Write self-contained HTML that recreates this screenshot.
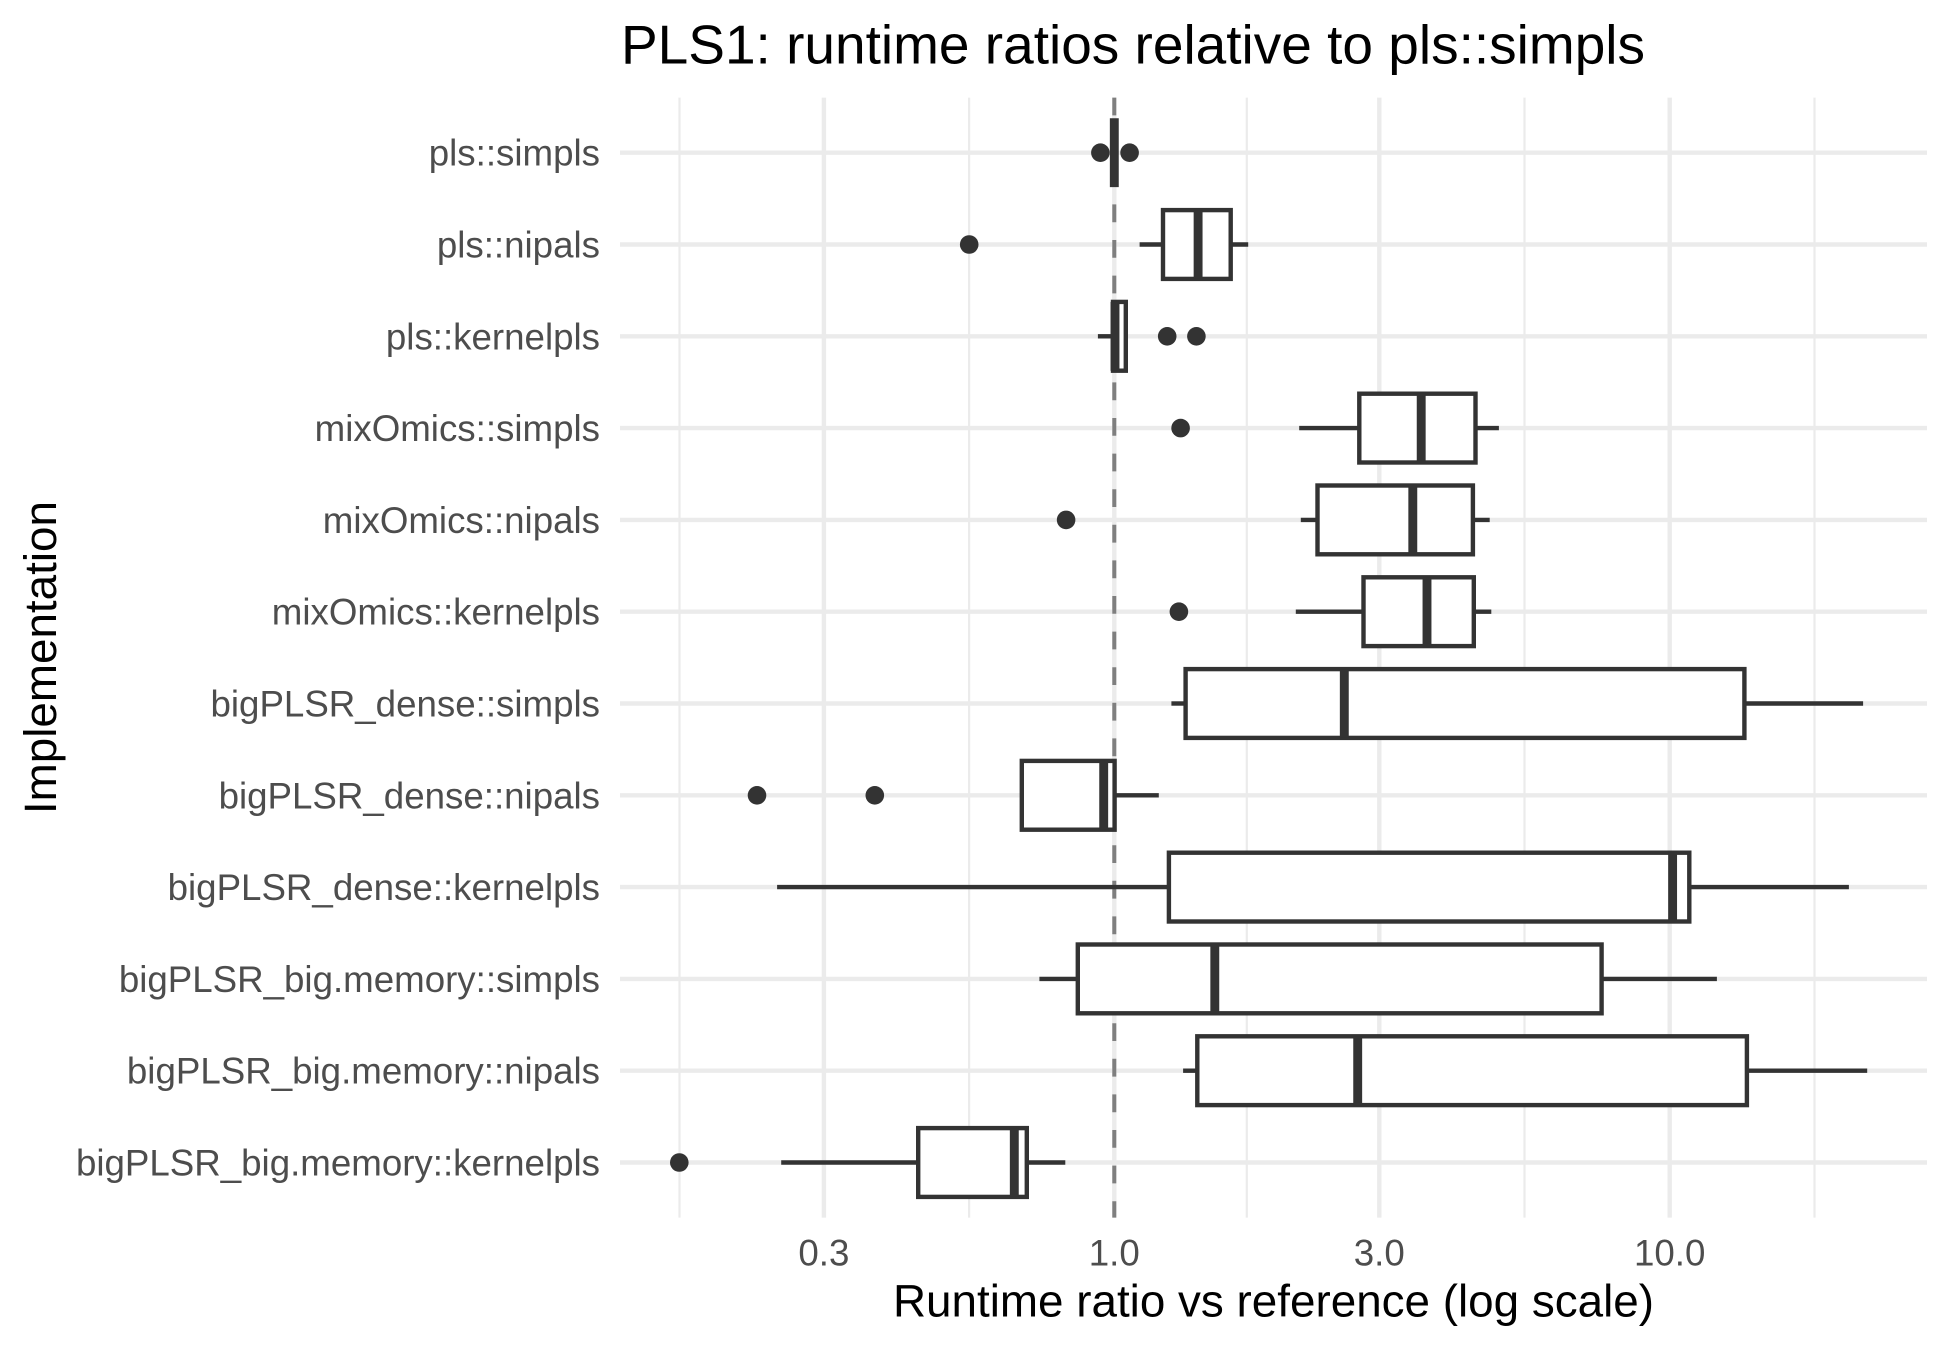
<!DOCTYPE html>
<html>
<head>
<meta charset="utf-8">
<style>
  html, body { margin: 0; padding: 0; background: #ffffff; }
  svg { display: block; }
  text { font-family: "Liberation Sans", Arial, sans-serif; }
</style>
</head>
<body>
<svg width="1950" height="1350" viewBox="0 0 1950 1350" xmlns="http://www.w3.org/2000/svg">
  <rect x="0" y="0" width="1950" height="1350" fill="#ffffff"/>

  <!-- minor vertical gridlines -->
  <g stroke="#EBEBEB" stroke-width="2.2">
    <line x1="679.5" y1="97.6" x2="679.5" y2="1217.6"/>
    <line x1="969.1" y1="97.6" x2="969.1" y2="1217.6"/>
    <line x1="1246.8" y1="97.6" x2="1246.8" y2="1217.6"/>
    <line x1="1524.5" y1="97.6" x2="1524.5" y2="1217.6"/>
    <line x1="1814.5" y1="97.6" x2="1814.5" y2="1217.6"/>
  </g>
  <!-- major vertical gridlines -->
  <g stroke="#EBEBEB" stroke-width="4.4">
    <line x1="823.9" y1="97.6" x2="823.9" y2="1217.6"/>
    <line x1="1114.3" y1="97.6" x2="1114.3" y2="1217.6"/>
    <line x1="1379.3" y1="97.6" x2="1379.3" y2="1217.6"/>
    <line x1="1669.7" y1="97.6" x2="1669.7" y2="1217.6"/>
  </g>
  <!-- major horizontal gridlines -->
  <g stroke="#EBEBEB" stroke-width="4.4">
    <line x1="620" y1="152.7" x2="1927" y2="152.7"/>
    <line x1="620" y1="244.5" x2="1927" y2="244.5"/>
    <line x1="620" y1="336.3" x2="1927" y2="336.3"/>
    <line x1="620" y1="428.1" x2="1927" y2="428.1"/>
    <line x1="620" y1="519.9" x2="1927" y2="519.9"/>
    <line x1="620" y1="611.7" x2="1927" y2="611.7"/>
    <line x1="620" y1="703.5" x2="1927" y2="703.5"/>
    <line x1="620" y1="795.3" x2="1927" y2="795.3"/>
    <line x1="620" y1="887.1" x2="1927" y2="887.1"/>
    <line x1="620" y1="978.9" x2="1927" y2="978.9"/>
    <line x1="620" y1="1070.7" x2="1927" y2="1070.7"/>
    <line x1="620" y1="1162.5" x2="1927" y2="1162.5"/>
  </g>

  <!-- reference dashed line -->
  <line x1="1114.3" y1="97.6" x2="1114.3" y2="1217.6" stroke="#7F7F7F" stroke-width="4" stroke-dasharray="17.8 17.8"/>

  <!-- boxplots -->
  <g stroke="#333333" stroke-width="4.4" fill="#ffffff" stroke-linecap="butt">
    <!-- row 1 pls::simpls -->
    <line x1="1114.3" y1="118.3" x2="1114.3" y2="187.1" stroke-width="8.9"/>

    <!-- row 2 pls::nipals -->
    <line x1="1139.6" y1="244.5" x2="1163" y2="244.5"/>
    <line x1="1230.7" y1="244.5" x2="1248.2" y2="244.5"/>
    <rect x="1163" y="210.1" width="67.7" height="68.8"/>
    <line x1="1198.1" y1="210.1" x2="1198.1" y2="278.9" stroke-width="8.9"/>

    <!-- row 3 pls::kernelpls -->
    <line x1="1097.9" y1="336.3" x2="1113" y2="336.3"/>
    <rect x="1113" y="301.9" width="12.8" height="68.8"/>
    <line x1="1115" y1="301.9" x2="1115" y2="370.7" stroke-width="8.9"/>

    <!-- row 4 mixOmics::simpls -->
    <line x1="1299.2" y1="428.1" x2="1359.3" y2="428.1"/>
    <line x1="1475.5" y1="428.1" x2="1498.9" y2="428.1"/>
    <rect x="1359.3" y="393.7" width="116.2" height="68.8"/>
    <line x1="1421.2" y1="393.7" x2="1421.2" y2="462.5" stroke-width="8.9"/>

    <!-- row 5 mixOmics::nipals -->
    <line x1="1300.8" y1="519.9" x2="1317.5" y2="519.9"/>
    <line x1="1472.9" y1="519.9" x2="1489.7" y2="519.9"/>
    <rect x="1317.5" y="485.5" width="155.4" height="68.8"/>
    <line x1="1412.8" y1="485.5" x2="1412.8" y2="554.3" stroke-width="8.9"/>

    <!-- row 6 mixOmics::kernelpls -->
    <line x1="1295.8" y1="611.7" x2="1363.5" y2="611.7"/>
    <line x1="1473.8" y1="611.7" x2="1491.3" y2="611.7"/>
    <rect x="1363.5" y="577.3" width="110.3" height="68.8"/>
    <line x1="1427" y1="577.3" x2="1427" y2="646.1" stroke-width="8.9"/>

    <!-- row 7 bigPLSR_dense::simpls -->
    <line x1="1171.4" y1="703.5" x2="1185.6" y2="703.5"/>
    <line x1="1744.4" y1="703.5" x2="1863.1" y2="703.5"/>
    <rect x="1185.6" y="669.1" width="558.8" height="68.8"/>
    <line x1="1344.3" y1="669.1" x2="1344.3" y2="737.9" stroke-width="8.9"/>

    <!-- row 8 bigPLSR_dense::nipals -->
    <line x1="1114.6" y1="795.3" x2="1158.8" y2="795.3"/>
    <rect x="1021.8" y="760.9" width="92.8" height="68.8"/>
    <line x1="1103.7" y1="760.9" x2="1103.7" y2="829.7" stroke-width="8.9"/>

    <!-- row 9 bigPLSR_dense::kernelpls -->
    <line x1="777.1" y1="887.1" x2="1168.9" y2="887.1"/>
    <line x1="1689.3" y1="887.1" x2="1848.9" y2="887.1"/>
    <rect x="1168.9" y="852.7" width="520.4" height="68.8"/>
    <line x1="1672.6" y1="852.7" x2="1672.6" y2="921.5" stroke-width="8.9"/>

    <!-- row 10 bigPLSR_big.memory::simpls -->
    <line x1="1039.4" y1="978.9" x2="1077.8" y2="978.9"/>
    <line x1="1601.6" y1="978.9" x2="1716.9" y2="978.9"/>
    <rect x="1077.8" y="944.5" width="523.8" height="68.8"/>
    <line x1="1214.8" y1="944.5" x2="1214.8" y2="1013.3" stroke-width="8.9"/>

    <!-- row 11 bigPLSR_big.memory::nipals -->
    <line x1="1183.1" y1="1070.7" x2="1197.3" y2="1070.7"/>
    <line x1="1746.9" y1="1070.7" x2="1867.2" y2="1070.7"/>
    <rect x="1197.3" y="1036.3" width="549.6" height="68.8"/>
    <line x1="1357.7" y1="1036.3" x2="1357.7" y2="1105.1" stroke-width="8.9"/>

    <!-- row 12 bigPLSR_big.memory::kernelpls -->
    <line x1="781.2" y1="1162.5" x2="918.2" y2="1162.5"/>
    <line x1="1026.8" y1="1162.5" x2="1065.3" y2="1162.5"/>
    <rect x="918.2" y="1128.1" width="108.6" height="68.8"/>
    <line x1="1014.3" y1="1128.1" x2="1014.3" y2="1196.9" stroke-width="8.9"/>
  </g>

  <!-- outliers -->
  <g fill="#333333">
    <circle cx="1100.4" cy="152.7" r="9.3"/>
    <circle cx="1129.6" cy="152.7" r="9.3"/>
    <circle cx="969.2" cy="244.5" r="9.3"/>
    <circle cx="1167.2" cy="336.3" r="9.3"/>
    <circle cx="1196.4" cy="336.3" r="9.3"/>
    <circle cx="1180.6" cy="428.1" r="9.3"/>
    <circle cx="1066.1" cy="519.9" r="9.3"/>
    <circle cx="1178.9" cy="611.7" r="9.3"/>
    <circle cx="757.0" cy="795.3" r="9.3"/>
    <circle cx="874.8" cy="795.3" r="9.3"/>
    <circle cx="679.3" cy="1162.5" r="9.3"/>
  </g>

  <!-- title -->
  <text x="621" y="63.3" font-size="55" fill="#000000">PLS1: runtime ratios relative to pls::simpls</text>

  <!-- y-axis labels -->
  <g font-size="36.7" fill="#4D4D4D" text-anchor="end">
    <text x="600" y="165.7">pls::simpls</text>
    <text x="600" y="257.5">pls::nipals</text>
    <text x="600" y="349.3">pls::kernelpls</text>
    <text x="600" y="441.1">mixOmics::simpls</text>
    <text x="600" y="532.9">mixOmics::nipals</text>
    <text x="600" y="624.7">mixOmics::kernelpls</text>
    <text x="600" y="716.5">bigPLSR_dense::simpls</text>
    <text x="600" y="808.3">bigPLSR_dense::nipals</text>
    <text x="600" y="900.1">bigPLSR_dense::kernelpls</text>
    <text x="600" y="991.9">bigPLSR_big.memory::simpls</text>
    <text x="600" y="1083.7">bigPLSR_big.memory::nipals</text>
    <text x="600" y="1175.5">bigPLSR_big.memory::kernelpls</text>
  </g>

  <!-- x-axis tick labels -->
  <g font-size="36.7" fill="#4D4D4D" text-anchor="middle">
    <text x="823.9" y="1265.5">0.3</text>
    <text x="1114.3" y="1265.5">1.0</text>
    <text x="1379.3" y="1265.5">3.0</text>
    <text x="1669.7" y="1265.5">10.0</text>
  </g>

  <!-- axis titles -->
  <text x="1273.5" y="1316.7" font-size="45.8" fill="#000000" text-anchor="middle">Runtime ratio vs reference (log scale)</text>
  <text transform="translate(56,657.6) rotate(-90)" x="0" y="0" font-size="45.8" fill="#000000" text-anchor="middle">Implementation</text>
</svg>
</body>
</html>
